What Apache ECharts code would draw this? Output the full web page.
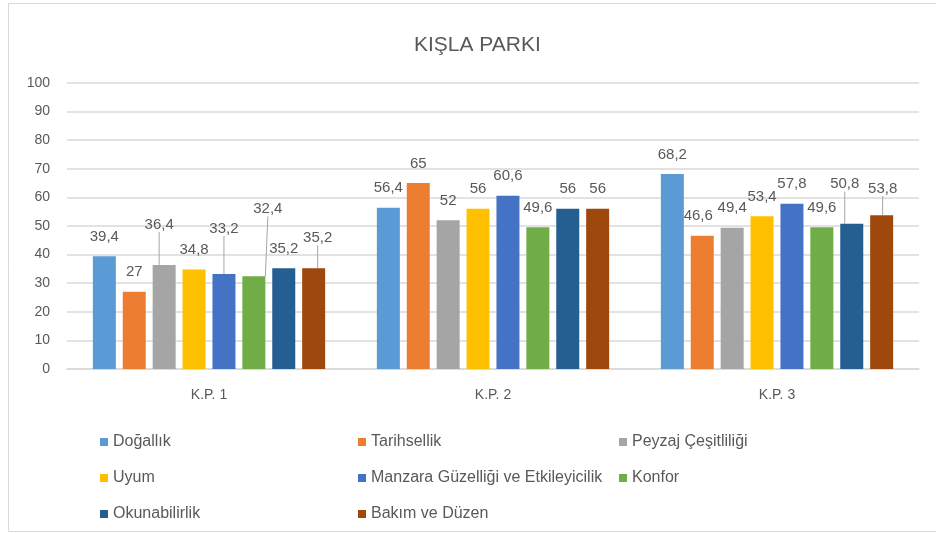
<!DOCTYPE html>
<html>
<head>
<meta charset="utf-8">
<script src="https://cdn.jsdelivr.net/npm/echarts@6/dist/echarts.min.js"></script>
<style>
  html, body { margin: 0; padding: 0; background: #fff; }
  #main { width: 936px; height: 533px; }
</style>
</head>
<body>
<div id="main"></div>
<script>
var chartDom = document.getElementById('main');
var myChart = echarts.init(chartDom);
var option;

// categories and values
var categories = ['K.P. 1', 'K.P. 2', 'K.P. 3'];
var seriesNames = ['Doğallık', 'Tarihsellik', 'Peyzaj Çeşitliliği', 'Uyum',
    'Manzara Güzelliği ve Etkileyicilik', 'Konfor', 'Okunabilirlik', 'Bakım ve Düzen'];
var dogallik = [39.4, 56.4, 68.2];
var tarihsellik = [27, 65, 46.6];
var peyzaj = [36.4, 52, 49.4];
var uyum = [34.8, 56, 53.4];
var manzara = [33.2, 60.6, 57.8];
var konfor = [32.4, 49.6, 49.6];
var okunabilirlik = [35.2, 56, 50.8];
var bakim = [35.2, 56, 53.8];
var yTicks = [0, 10, 20, 30, 40, 50, 60, 70, 80, 90, 100];

var allValues = [dogallik, tarihsellik, peyzaj, uyum, manzara, konfor, okunabilirlik, bakim];
var colors = ['#5B9BD5', '#ED7D31', '#A5A5A5', '#FFC000', '#4472C4', '#70AD47', '#255E91', '#9E480E'];

// labels that Excel moved away from the bar (with a leader line): "series-index" -> [dx, dy]
var movedLabels = {
    '2-0': [-5, -21],
    '4-0': [0, -26],
    '5-0': [14, -48],
    '7-0': [4, -11],
    '1-2': [-4, 0],
    '6-2': [-7, -20],
    '7-2': [1, -7]
};

var textColor = '#595959';
var fontName = 'Liberation Sans';

var series = allValues.map(function (vals, s) {
    return {
        name: seriesNames[s],
        type: 'bar',
        barWidth: 23,
        barGap: '30%',
        itemStyle: { color: colors[s] },
        label: {
            show: true,
            position: 'top',
            distance: 12,
            color: textColor,
            fontFamily: fontName,
            fontSize: 15,
            formatter: function (p) {
                return String(p.value).replace('.', ',');
            }
        },
        labelLine: {
            lineStyle: { color: '#a6a6a6', width: 1 }
        },
        labelLayout: function (p) {
            var m = movedLabels[p.seriesIndex + '-' + p.dataIndex];
            if (m) {
                return { dx: m[0], dy: m[1] };
            }
            return {};
        },
        data: vals.map(function (v, i) {
            var m = movedLabels[s + '-' + i];
            if (m && (m[1] < -5)) {
                return { value: v, labelLine: { show: true } };
            }
            return v;
        })
    };
});

function makeLegend(names, left) {
    return {
        orient: 'vertical',
        left: left,
        top: 429,
        icon: 'rect',
        itemWidth: 8,
        itemHeight: 8,
        itemGap: 20,
        selectedMode: false,
        textStyle: { color: textColor, fontFamily: fontName, fontSize: 16, lineHeight: 16 },
        data: names
    };
}

option = {
    animation: false,
    backgroundColor: '#fff',
    color: colors,
    title: {
        text: 'KIŞLA PARKI',
        left: 409,
        top: 30,
        textStyle: { color: textColor, fontFamily: fontName, fontSize: 21, fontWeight: 'normal' }
    },
    graphic: [{
        type: 'rect',
        shape: { x: 8.5, y: 3.5, width: 940, height: 528 },
        style: { fill: 'none', stroke: '#d9d9d9', lineWidth: 1 },
        silent: true
    }],
    legend: [
        makeLegend([seriesNames[0], seriesNames[3], seriesNames[6]], 95),
        makeLegend([seriesNames[1], seriesNames[4], seriesNames[7]], 353),
        makeLegend([seriesNames[2], seriesNames[5]], 614)
    ],
    grid: {
        left: 67,
        right: 17,
        top: 83,
        bottom: 164
    },
    xAxis: {
        type: 'category',
        data: categories,
        axisTick: { show: false },
        axisLine: { lineStyle: { color: '#d9d9d9', width: 1.5 } },
        axisLabel: { color: textColor, fontFamily: fontName, fontSize: 14, margin: 19 }
    },
    yAxis: {
        type: 'value',
        min: yTicks[0],
        max: yTicks[yTicks.length - 1],
        interval: 10,
        axisLine: { show: false },
        axisTick: { show: false },
        splitLine: { lineStyle: { color: '#d9d9d9', width: 1.5 } },
        axisLabel: { color: textColor, fontFamily: fontName, fontSize: 14, margin: 17 }
    },
    series: series
};

option && myChart.setOption(option);
</script>
</body>
</html>
